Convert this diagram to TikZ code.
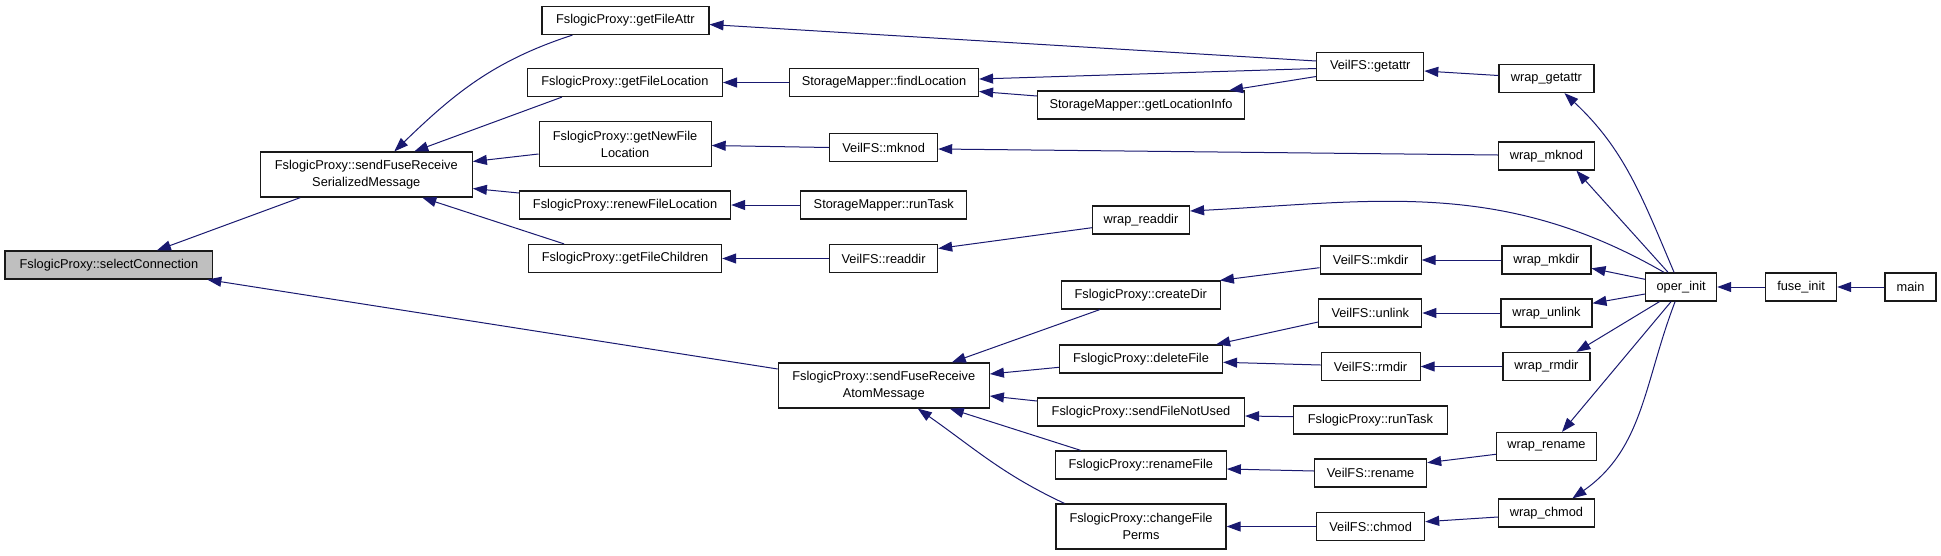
\documentclass[tikz,border=0pt]{standalone}
\usepackage{fontspec}
\setmainfont{Liberation Sans}
\usetikzlibrary{arrows.meta}
\definecolor{edgecol}{HTML}{191970}
\definecolor{selfill}{HTML}{BFBFBF}
\newcommand{\fnfont}{\fontsize{12.8pt}{17pt}\selectfont}
\begin{document}
\begin{tikzpicture}[x=1pt,y=-1pt,
  fn/.style={draw=black!90, line width=1.2pt, fill=white, inner sep=0pt,
    minimum height=28pt, font=\fnfont, align=center},
  fntwo/.style={fn, minimum height=45pt},
  call/.style={draw=edgecol, line width=1pt, -{Triangle[length=14pt,width=10pt]}}]
\useasboundingbox (0,0) rectangle (1941,555);
% column 1-2
\node[fn, fill=selfill, minimum width=207.7pt] (sel) at (108.9,265) {FslogicProxy::selectConnection};
\node[fntwo, minimum width=212pt] (ser) at (366.3,174.5) {FslogicProxy::sendFuseReceive\\SerializedMessage};
% column 3
\node[fn, minimum width=167pt] (gfa) at (625.4,20.5) {FslogicProxy::getFileAttr};
\node[fn, minimum width=195pt] (gfl) at (624.9,82.5) {FslogicProxy::getFileLocation};
\node[fntwo, minimum width=172pt] (gnfl) at (625.1,144) {FslogicProxy::getNewFile\\Location};
\node[fn, minimum width=211pt] (rfl) at (625.1,205) {FslogicProxy::renewFileLocation};
\node[fn, minimum width=193pt] (gfc) at (625.1,258.5) {FslogicProxy::getFileChildren};
% column 4
\node[fn, minimum width=189pt] (findloc) at (884,82.5) {StorageMapper::findLocation};
\node[fn, minimum width=108pt] (mknod) at (883.6,147.5) {VeilFS::mknod};
\node[fn, minimum width=166pt] (smruntask) at (883.8,205) {StorageMapper::runTask};
\node[fn, minimum width=108pt] (readdir) at (883.6,258.5) {VeilFS::readdir};
\node[fntwo, minimum width=211pt] (atom) at (883.8,385.5) {FslogicProxy::sendFuseReceive\\AtomMessage};
% column 5
\node[fn, minimum width=207pt] (getlocinfo) at (1141,105) {StorageMapper::getLocationInfo};
\node[fn, minimum width=97pt] (wrapreaddir) at (1141,220) {wrap\_readdir};
\node[fn, minimum width=159pt] (createdir) at (1140.8,295) {FslogicProxy::createDir};
\node[fn, minimum width=163pt] (deletefile) at (1141,359) {FslogicProxy::deleteFile};
\node[fn, minimum width=207pt] (sendfnu) at (1141,412) {FslogicProxy::sendFileNotUsed};
\node[fn, minimum width=171pt] (renamefile) at (1140.8,465) {FslogicProxy::renameFile};
\node[fntwo, minimum width=170pt] (changeperms) at (1141,526.5) {FslogicProxy::changeFile\\Perms};
% column 6
\node[fn, minimum width=107pt] (getattr) at (1370.2,66.5) {VeilFS::getattr};
\node[fn, minimum width=101pt] (mkdir) at (1370.6,260) {VeilFS::mkdir};
\node[fn, minimum width=103pt] (unlink) at (1370.3,313) {VeilFS::unlink};
\node[fn, minimum width=99pt] (rmdir) at (1370.6,366.5) {VeilFS::rmdir};
\node[fn, minimum width=154pt] (fpruntask) at (1370.4,420) {FslogicProxy::runTask};
\node[fn, minimum width=112pt] (rename) at (1370.6,473) {VeilFS::rename};
\node[fn, minimum width=108pt] (chmod) at (1370.6,526.5) {VeilFS::chmod};
% column 7
\node[fn, minimum width=95pt] (wrapgetattr) at (1546.4,78.5) {wrap\_getattr};
\node[fn, minimum width=96pt] (wrapmknod) at (1546.4,156) {wrap\_mknod};
\node[fn, minimum width=89pt] (wrapmkdir) at (1546.4,260) {wrap\_mkdir};
\node[fn, minimum width=91pt] (wrapunlink) at (1546.4,313) {wrap\_unlink};
\node[fn, minimum width=87pt] (wraprmdir) at (1546.4,366.5) {wrap\_rmdir};
\node[fn, minimum width=100pt] (wraprename) at (1546.4,446.5) {wrap\_rename};
\node[fn, minimum width=96pt] (wrapchmod) at (1546.4,513) {wrap\_chmod};
% columns 8-10
\node[fn, minimum width=71pt] (operinit) at (1681.1,287) {oper\_init};
\node[fn, minimum width=71pt] (fuseinit) at (1801.1,287) {fuse\_init};
\node[fn, minimum width=51pt] (main) at (1910.5,287) {main};
% edges
\draw[call] ([xshift=-66pt]ser.south) -- ([xshift=48pt]sel.north);
\draw[call] ([yshift=16.5pt]atom.west) -- ([xshift=-6pt]sel.south east);
\draw[call] ([xshift=-53pt]gfa.south) to[out=198,in=44] ([xshift=28pt]ser.north);
\draw[call] ([xshift=-63pt]gfl.south) -- ([xshift=48pt]ser.north);
\draw[call] ([yshift=-10pt]gnfl.west) -- ([yshift=13pt]ser.east);
\draw[call] ([yshift=12pt]rfl.west) -- ([yshift=-14pt]ser.east);
\draw[call] ([xshift=-61pt]gfc.north) -- ([xshift=56pt]ser.south);
\draw[call] (findloc.west) -- (gfl.east);
\draw[call] ([yshift=5.5pt]getattr.west) -- ([yshift=-4pt]gfa.east);
\draw[call] ([yshift=-2pt]getattr.west) -- ([yshift=3.5pt]findloc.east);
\draw[call] ([yshift=-10pt]getattr.west) -- ([xshift=-16pt]getlocinfo.north east);
\draw[call] ([yshift=9pt]getlocinfo.west) -- ([yshift=-9pt]findloc.east);
\draw[call] (mknod.west) -- ([yshift=-1.5pt]gnfl.east);
\draw[call] ([yshift=1pt]wrapmknod.west) -- ([yshift=-1.5pt]mknod.east);
\draw[call] (smruntask.west) -- (rfl.east);
\draw[call] (readdir.west) -- (gfc.east);
\draw[call] ([yshift=-7.7pt]wrapreaddir.west) -- ([yshift=10pt]readdir.east);
\draw[call] ([xshift=-17pt]operinit.north) to[out=150,in=3] ([yshift=9pt]wrapreaddir.east);
\draw[call] ([yshift=3pt]wrapgetattr.west) -- ([yshift=-4.5pt]getattr.east);
\draw[call] ([xshift=-7pt]operinit.north) to[out=113,in=-43] ([xshift=18pt]wrapgetattr.south);
\draw[call] ([xshift=-13pt]operinit.north) -- ([xshift=30pt]wrapmknod.south);
\draw[call] (wrapmkdir.west) -- (mkdir.east);
\draw[call] ([yshift=-7.7pt]mkdir.west) -- ([xshift=-1pt]createdir.north east);
\draw[call] ([yshift=7.7pt]operinit.west) -- ([yshift=-8.3pt]wrapmkdir.east);
\draw[call] ([yshift=-7pt]operinit.west) -- ([yshift=9.7pt]wrapunlink.east);
\draw[call] (fuseinit.west) -- (operinit.east);
\draw[call] (main.west) -- (fuseinit.east);
\draw[call] (wrapunlink.west) -- (unlink.east);
\draw[call] ([yshift=-9pt]unlink.west) -- ([xshift=-7pt]deletefile.north east);
\draw[call] ([yshift=1.5pt]rmdir.west) -- ([yshift=-3.3pt]deletefile.east);
\draw[call] (wraprmdir.west) -- (rmdir.east);
\draw[call] ([xshift=-21.6pt]operinit.south) -- ([xshift=30pt]wraprmdir.north);
\draw[call] ([yshift=3.3pt]fpruntask.west) -- ([yshift=-4pt]sendfnu.east);
\draw[call] ([yshift=-7.8pt]wraprename.west) -- ([yshift=10.3pt]rename.east);
\draw[call] ([yshift=2pt]rename.west) -- ([yshift=-4pt]renamefile.east);
\draw[call] ([xshift=-10pt]operinit.south) -- ([xshift=15.6pt]wraprename.north);
\draw[call] ([xshift=-6pt]operinit.south) to[out=249,in=35] ([xshift=26pt]wrapchmod.north);
\draw[call] ([yshift=-4pt]wrapchmod.west) -- ([yshift=4.8pt]chmod.east);
\draw[call] (chmod.west) -- (changeperms.east);
\draw[call] ([xshift=-41pt]createdir.south) -- ([xshift=68pt]atom.north);
\draw[call] ([yshift=-8.3pt]deletefile.west) -- ([yshift=11.5pt]atom.east);
\draw[call] ([yshift=11pt]sendfnu.west) -- ([yshift=-10.5pt]atom.east);
\draw[call] ([xshift=-60pt]renamefile.north) -- ([xshift=66pt]atom.south);
\draw[call] ([xshift=-76.5pt]changeperms.north) to[out=155,in=-35] ([xshift=34pt]atom.south);
\end{tikzpicture}
\end{document}
